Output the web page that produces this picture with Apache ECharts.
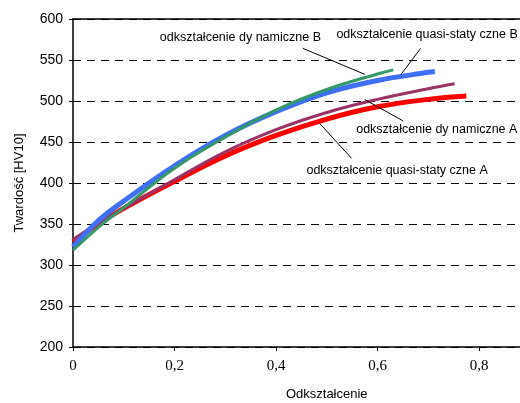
<!DOCTYPE html>
<html>
<head>
<meta charset="utf-8">
<script src="https://cdn.jsdelivr.net/npm/echarts@6/dist/echarts.min.js"></script>
<style>
html, body { margin: 0; padding: 0; background: #fff; }
#chart { width: 520px; height: 403px; }
</style>
</head>
<body>
<div id="chart"></div>
<script>
// values: [odkształcenie, twardość]
var dynB = [[0, 318], [0.05, 346], [0.1, 370], [0.2, 418], [0.3, 456], [0.4, 489], [0.5, 514], [0.6, 533], [0.631, 538]]
var quasiB = [[0, 322], [0.05, 354], [0.1, 378], [0.2, 421], [0.3, 458], [0.4, 487], [0.5, 510], [0.6, 525], [0.7, 535], [0.713, 536]]
var dynA = [[0, 331], [0.05, 351], [0.1, 369], [0.2, 404], [0.3, 438], [0.4, 465], [0.5, 486], [0.6, 502], [0.7, 515], [0.752, 521]]
var quasiA = [[0, 329], [0.05, 350], [0.1, 369], [0.2, 402], [0.3, 433], [0.4, 458], [0.5, 478], [0.6, 493], [0.7, 502], [0.775, 506]]

var xTicks = [0, 0.2, 0.4, 0.6, 0.8, 1]
var yTicks = [200, 250, 300, 350, 400, 450, 500, 550, 600]

// labels with leader lines, in data coordinates
var notes = [
    { text: 'odkształcenie dy namiczne B', at: [0.171, 577.7], from: [0.453, 564.2], to: [0.575, 532.5] },
    { text: 'odkształcenie quasi-staty czne B', at: [0.519, 580.5], from: [0.685, 564.2], to: [0.647, 532.9] },
    { text: 'odkształcenie dy namiczne A', at: [0.558, 465.7], from: [0.575, 501.7], to: [0.650, 475.9] },
    { text: 'odkształcenie quasi-staty czne A', at: [0.460, 415.7], from: [0.486, 472.7], to: [0.549, 430] }
]

var chart = echarts.init(document.getElementById('chart'))

function line(name, data, color, width) {
    return {
        name: name,
        type: 'line',
        data: data,
        smooth: 0.4,
        showSymbol: false,
        animation: false,
        lineStyle: { color: color, width: width }
    }
}

chart.setOption({
    backgroundColor: '#fff',
    grid: { left: 73, top: 19, width: 507.5, height: 328, outerBoundsMode: 'none', containLabel: false },
    xAxis: [{
        type: 'value',
        min: xTicks[0],
        max: xTicks[xTicks.length - 1],
        interval: 0.2,
        name: 'Odkształcenie',
        nameLocation: 'middle',
        nameGap: 41,
        nameTextStyle: { fontFamily: 'Liberation Sans', fontSize: 13, color: '#000' },
        axisLine: { lineStyle: { color: '#000', width: 1.5 } },
        axisTick: { inside: false, length: 4, lineStyle: { color: '#000' } },
        axisLabel: {
            margin: 12,
            fontFamily: 'Liberation Serif',
            fontSize: 15,
            color: '#000',
            formatter: function (v) { return String(v).replace('.', ',') }
        },
        splitLine: { show: false }
    }, {
        type: 'value',
        position: 'top',
        min: xTicks[0],
        max: xTicks[xTicks.length - 1],
        axisLine: { lineStyle: { color: '#000', width: 1.5 } },
        axisTick: { show: false },
        axisLabel: { show: false },
        splitLine: { show: false }
    }],
    yAxis: {
        type: 'value',
        min: yTicks[0],
        max: yTicks[yTicks.length - 1],
        interval: 50,
        name: 'Twardość [HV10]',
        nameLocation: 'middle',
        nameGap: 47,
        nameTextStyle: { fontFamily: 'Liberation Sans', fontSize: 13, color: '#000' },
        axisLine: { show: true, lineStyle: { color: '#000', width: 1.5 } },
        axisTick: { show: true, inside: false, length: 4, lineStyle: { color: '#000' } },
        axisLabel: { margin: 10, fontFamily: 'Liberation Sans', fontSize: 14, color: '#000' },
        splitLine: { lineStyle: { color: '#000', type: [8, 6], width: 1 } }
    },
    series: [
        line('odkształcenie quasi-statyczne A', quasiA, '#ff0000', 5),
        line('odkształcenie dynamiczne A', dynA, '#993366', 3),
        line('odkształcenie quasi-statyczne B', quasiB, '#3f6ff5', 5),
        line('odkształcenie dynamiczne B', dynB, '#339966', 3)
    ]
})

var graphics = []
notes.forEach(function (n) {
    var p = chart.convertToPixel({ gridIndex: 0 }, n.at)
    var a = chart.convertToPixel({ gridIndex: 0 }, n.from)
    var b = chart.convertToPixel({ gridIndex: 0 }, n.to)
    graphics.push({
        type: 'line',
        shape: { x1: a[0], y1: a[1], x2: b[0], y2: b[1] },
        style: { stroke: '#000', lineWidth: 1 },
        z: 10
    })
    graphics.push({
        type: 'text',
        x: p[0],
        y: p[1],
        style: {
            text: n.text,
            fontFamily: 'Liberation Sans',
            fontSize: 12.5,
            fill: '#000',
            verticalAlign: 'middle'
        },
        z: 10
    })
})
chart.setOption({ graphic: graphics })
</script>
</body>
</html>
